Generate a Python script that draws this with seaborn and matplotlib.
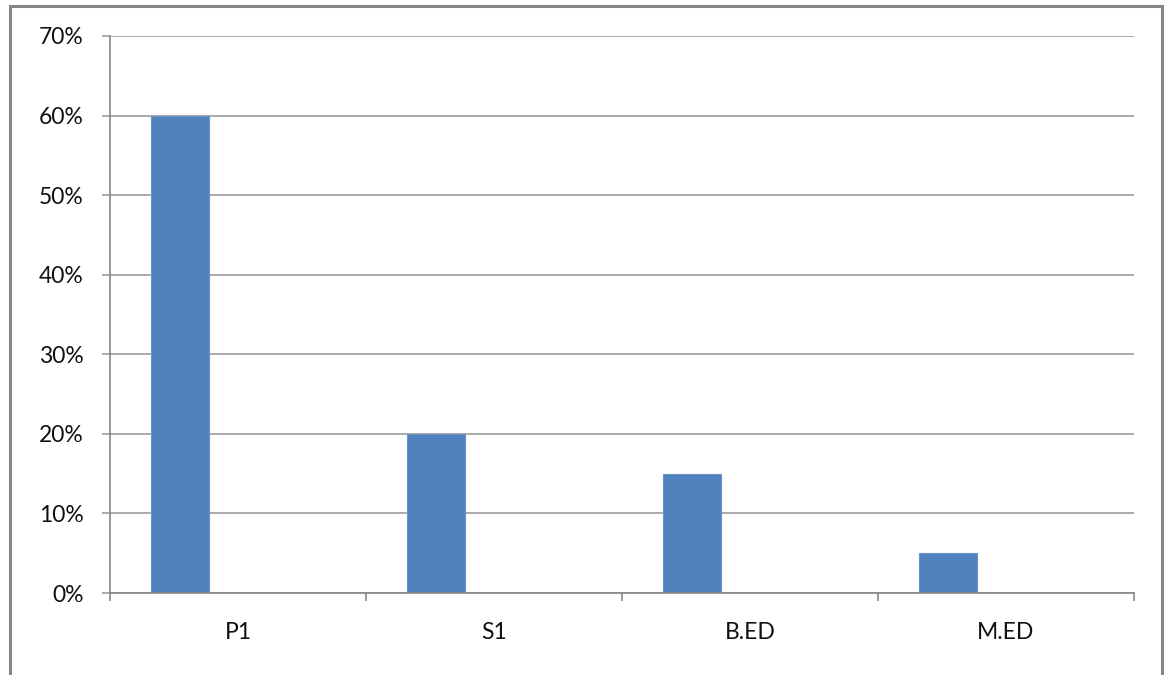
import matplotlib
matplotlib.use("Agg")
import matplotlib.pyplot as plt
import matplotlib.ticker as mticker
from matplotlib.patches import Rectangle
import numpy as np
import pandas as pd
import seaborn as sns

# Share of respondents by qualification
categories = ["P1", "S1", "B.ED", "M.ED"]
shares = [0.60, 0.20, 0.15, 0.05]
series_order = ["Series1", "Series2", "Series3"]  # only the first series holds data
y_ticks = [0.0, 0.1, 0.2, 0.3, 0.4, 0.5, 0.6, 0.7]

df = pd.DataFrame({"category": categories, "share": shares, "series": "Series1"})

sns.set_theme(style="white")
plt.rcParams["font.family"] = ["Lato", "DejaVu Sans"]

fig = plt.figure(figsize=(11.66, 6.75), dpi=100)
W, H = 1166, 675
ax = fig.add_axes([110 / W, 1 - 593 / H, (1134 - 110) / W, (593 - 36) / H])

bar_color = "#4F81BD"
sns.barplot(
    data=df, x="category", y="share", hue="series", hue_order=series_order,
    order=categories, palette=[bar_color] * 3, width=0.68, gap=0,
    dodge=True, legend=False, ax=ax, errorbar=None,
    edgecolor="#6A93C8", linewidth=0.8, saturation=1,
)

grid_col = "#9C9C9C"
axis_col = "#868686"

ax.set_xlim(-0.5, len(categories) - 0.5)
ax.set_ylim(0, 0.7)
ax.set_yticks(y_ticks)
ax.yaxis.set_major_formatter(mticker.FuncFormatter(lambda v, _: f"{v * 100:.0f}%"))
ax.yaxis.grid(True, color=grid_col, linewidth=1.2)
ax.set_axisbelow(True)

ax.set_xlabel("")
ax.set_ylabel("")

for s in ("top", "right"):
    ax.spines[s].set_visible(False)
for s in ("left", "bottom"):
    ax.spines[s].set_color(axis_col)
    ax.spines[s].set_linewidth(1.2)

# y ticks extend the gridlines past the axis
ax.tick_params(axis="y", which="major", left=True, length=6, width=1.2,
               color=grid_col, labelsize=16.5, labelcolor="#111111", pad=13)
# category labels centered, boundary ticks as minor ticks
ax.tick_params(axis="x", which="major", bottom=True, length=0, labelsize=16.5,
               labelcolor="#111111", pad=21)
ax.set_xticks(np.arange(-0.5, len(categories)), minor=True)
ax.tick_params(axis="x", which="minor", bottom=True, length=6, width=1.2,
               color=axis_col)

# chart area frame
fig.patches.append(Rectangle((10 / W, -0.02), (1162 - 10) / W, 1 - 6 / H + 0.02,
                             transform=fig.transFigure, fill=False,
                             edgecolor="#878787", linewidth=2.2, zorder=0))

fig.savefig("out.png", dpi=100, facecolor="white")
